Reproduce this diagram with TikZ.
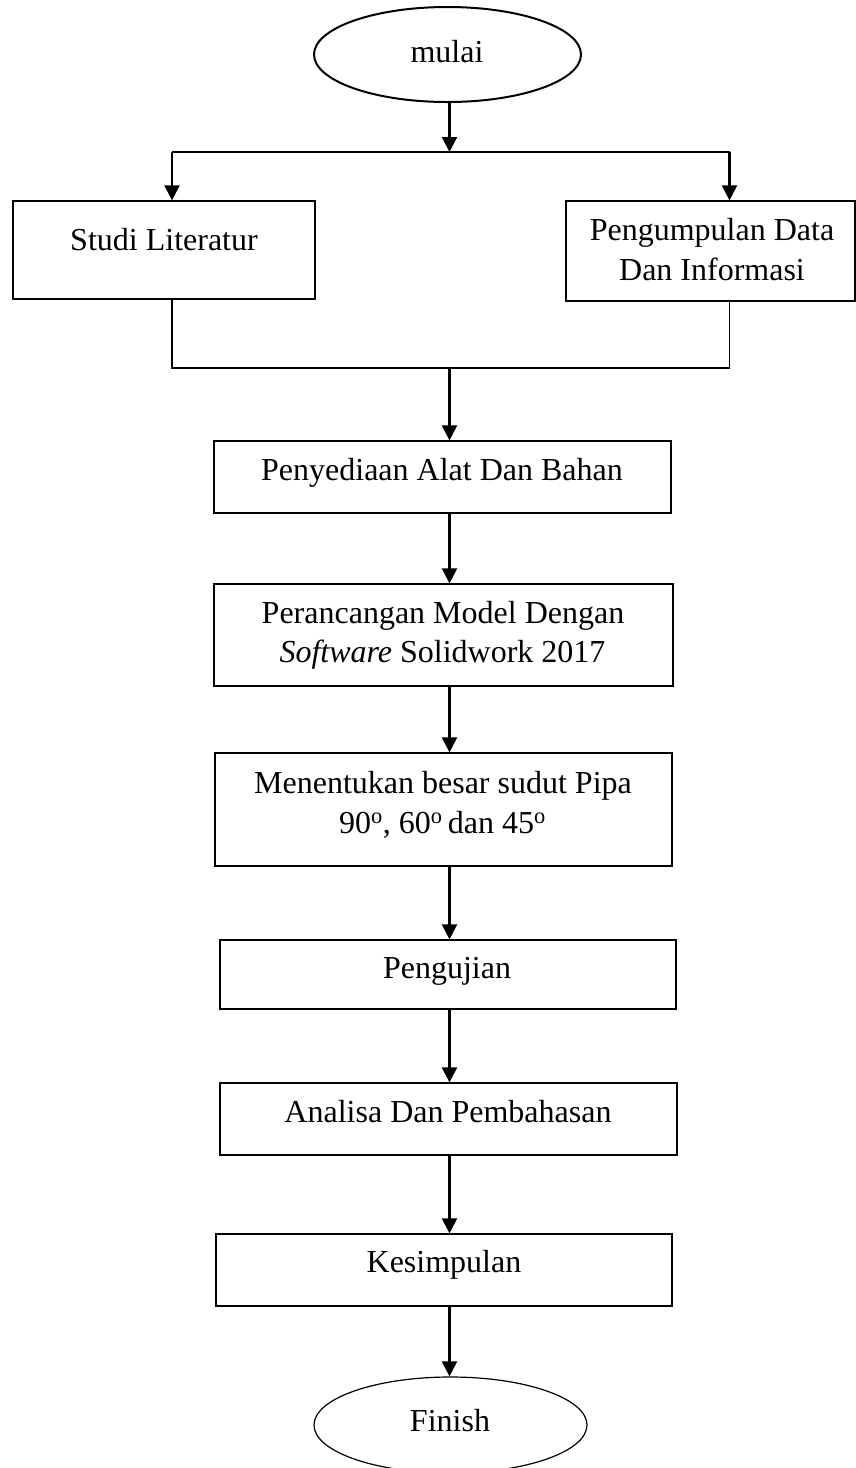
\documentclass[tikz,border=0pt]{standalone}
\usepackage{fontspec}
\setmainfont{Liberation Serif}
\usetikzlibrary{arrows.meta,shapes.geometric}
\begin{document}
\begin{tikzpicture}[x=1pt,y=-1pt,
  box/.style={draw, line width=1.2pt, rectangle, inner sep=0pt},
  oval/.style={draw, ellipse, inner sep=0pt},
  txt/.style={anchor=base, inner sep=0pt, font=\fontsize{32}{38}\selectfont},
  arr/.style={line width=2.2pt, -{Triangle[length=15pt,width=15pt]}},
  con/.style={line width=1.4pt}]
\useasboundingbox (0,0) rectangle (856,1468);
% shapes
\node[oval, line width=2pt, minimum width=267pt, minimum height=95pt] (start) at (447.5,54.5) {};
\node[box, minimum width=302pt, minimum height=98pt] (s1) at (164,250) {};
\node[box, minimum width=289pt, minimum height=100pt] (s2) at (710.5,251) {};
\node[box, minimum width=457pt, minimum height=72pt] (p1) at (442.5,477) {};
\node[box, minimum width=459pt, minimum height=102pt] (p2) at (443.5,635) {};
\node[box, minimum width=457pt, minimum height=113pt] (p3) at (443.5,809.5) {};
\node[box, minimum width=456pt, minimum height=69pt] (p4) at (448,974.5) {};
\node[box, minimum width=457pt, minimum height=72pt] (p5) at (448.5,1119) {};
\node[box, minimum width=456pt, minimum height=72pt] (p6) at (444,1270) {};
\node[oval, line width=1.2pt, minimum width=273pt, minimum height=96pt] (fin) at (450.5,1425) {};
% texts
\node[txt] (t0) at (447,62) {mulai};
\node[txt] (t1) at (164,250) {Studi Literatur};
\node[txt] (t2a) at (712,240) {Pengumpulan Data};
\node[txt] (t2b) at (712,280) {Dan Informasi};
\node[txt] (t3) at (442,480) {Penyediaan Alat Dan Bahan};
\node[txt] (t4a) at (443,623) {Perancangan Model Dengan};
\node[txt] (t4b) at (442.5,662) {\textit{Software} Solidwork 2017};
\node[txt] (t5a) at (443,793) {Menentukan besar sudut Pipa};
\node[txt] (t5b) at (442.5,833) {90\textsuperscript{o}, 60\textsuperscript{o}\,dan 45\textsuperscript{o}};
\node[txt] (t6) at (447,978) {Pengujian};
\node[txt] (t7) at (448,1122) {Analisa Dan Pembahasan};
\node[txt] (t8) at (444,1272) {Kesimpulan};
\node[txt] (t9) at (450,1431) {Finish};
% connectors
\coordinate (col) at (449.5,0);
\coordinate (sl) at (172,152);
\coordinate (sr) at (729.5,152);
\coordinate (jl) at (172,368);
\coordinate (jr) at (729.5,368);
\draw[arr] (start.south -| col) -- (sl -| col);
\draw[con] (sl) -- (sr);
\draw[arr] (sl) -- (sl |- s1.north);
\draw[arr] (sr) -- (sr |- s2.north);
\draw[con] (jl |- s1.south) -- (jl) -- (jr) -- (jr |- s2.south);
\draw[arr] (jl -| col) -- (p1.north -| col);
\draw[arr] (p1.south -| col) -- (p2.north -| col);
\draw[arr] (p2.south -| col) -- (p3.north -| col);
\draw[arr] (p3.south -| col) -- (p4.north -| col);
\draw[arr] (p4.south -| col) -- (p5.north -| col);
\draw[arr] (p5.south -| col) -- (p6.north -| col);
\draw[arr] (p6.south -| col) -- (fin.north -| col);
\end{tikzpicture}
\end{document}
